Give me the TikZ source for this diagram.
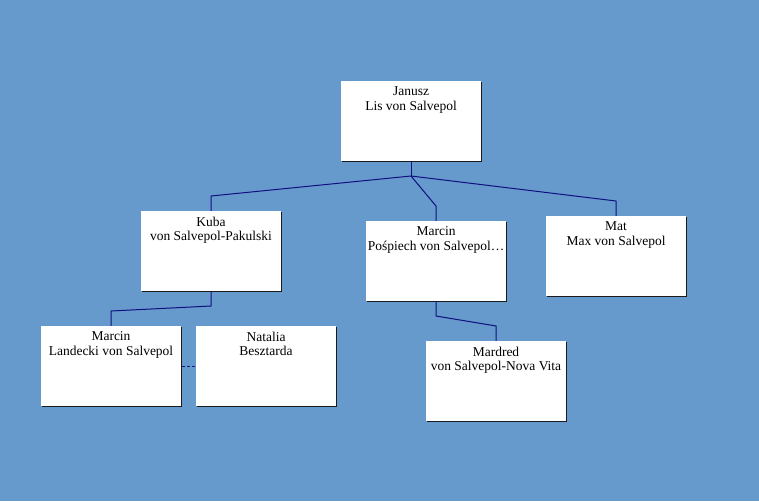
\documentclass[tikz,border=0pt]{standalone}
\usepackage{fontspec}
\setmainfont{Liberation Serif}
\usetikzlibrary{shadows}
\definecolor{bgblue}{HTML}{6699CC}
\definecolor{linkcol}{HTML}{101080}
\definecolor{shadowcol}{HTML}{1A1A1A}
\begin{document}
\begin{tikzpicture}[x=1pt,y=-1pt,
  person/.style={rectangle,fill=white,minimum width=140pt,minimum height=80pt,inner sep=0pt,
    drop shadow={shadow xshift=1pt,shadow yshift=-1pt,fill=shadowcol,opacity=1}},
  ptext/.style={anchor=north,inner sep=0pt,yshift=-6pt,align=center,
    font=\fontsize{13.5}{14.5}\selectfont},
  link/.style={draw=linkcol,line width=1pt},
  spouse/.style={draw=linkcol,line width=0.8pt,dash pattern=on 2.5pt off 2.5pt}]
\fill[bgblue] (0,0) rectangle (759,501);
\useasboundingbox (0,0) rectangle (759,501);
\node[person] (janusz) at (411,121) {};
\node[person] (kuba) at (211,251) {};
\node[person] (pos) at (436,261) {};
\node[person] (mat) at (616,256) {};
\node[person] (land) at (111,366) {};
\node[person] (nat) at (266,366) {};
\node[person] (mard) at (496,381) {};
\node[ptext] (janusz-t) at (janusz.north) {Janusz\\Lis von Salvepol};
\node[ptext] (kuba-t) at (kuba.north) {Kuba\\von Salvepol-Pakulski};
\node[ptext] (pos-t) at (pos.north) {Marcin\\Pośpiech von Salvepol…};
\node[ptext] (mat-t) at (mat.north) {Mat\\Max von Salvepol};
\node[ptext] (land-t) at (land.north) {Marcin\\Landecki von Salvepol};
\node[ptext] (nat-t) at (nat.north) {Natalia\\Besztarda};
\node[ptext] (mard-t) at (mard.north) {Mardred\\von Salvepol-Nova Vita};
\coordinate (j0) at (411,176);
\coordinate (e1) at (211,196);
\coordinate (e2) at (436,206);
\coordinate (e3) at (616,201);
\coordinate (e4) at (211,306);
\coordinate (e5) at (111,311);
\coordinate (e6) at (436,316);
\coordinate (e7) at (496,326);
\draw[link] (janusz.south) -- (j0);
\draw[link] (j0) -- (e1) -- (kuba.north);
\draw[link] (j0) -- (e2) -- (pos.north);
\draw[link] (j0) -- (e3) -- (mat.north);
\draw[link] (kuba.south) -- (e4) -- (e5) -- (land.north);
\draw[link] (pos.south) -- (e6) -- (e7) -- (mard.north);
\draw[spouse] ([xshift=1pt]land.east) -- (nat.west);
\end{tikzpicture}
\end{document}
